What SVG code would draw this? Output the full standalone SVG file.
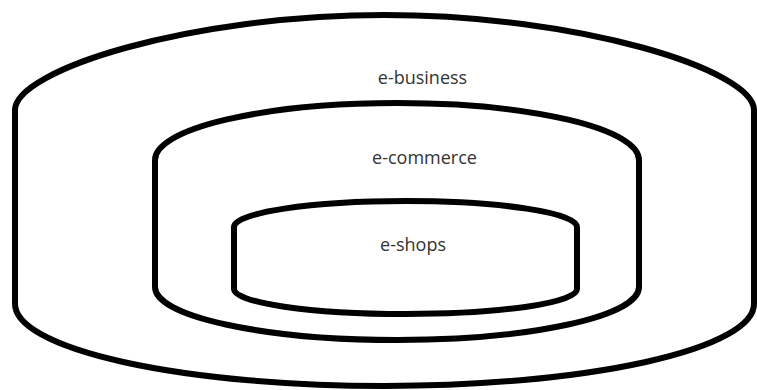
<svg xmlns="http://www.w3.org/2000/svg" width="757" height="390" viewBox="0 0 757 390">
  <style>
    .ring { fill: none; stroke: #000; stroke-width: 6; stroke-linejoin: round; }
    .label { font-family: "Open Sans", "Noto Sans", "DejaVu Sans", sans-serif; font-size: 18px; fill: #333; text-anchor: middle; }
  </style>
  <rect width="757" height="390" fill="#fff"/>
  <!-- outermost ring: e-business (arched top, elliptical bottom) -->
  <g id="e-business">
    <path class="ring" d="M15,304 V110 C15,70 190,15 384.5,15 C579,15 754,70 754,110 V304 A369.5,82 0 0 1 15,304 Z"/>
    <text class="label" x="422.5" y="84">e-business</text>
  </g>
  <!-- middle ring: e-commerce -->
  <g id="e-commerce">
    <path class="ring" d="M155,287 V160 A242,57 0 0 1 639,160 V287 A242,53 0 0 1 155,287 Z"/>
    <text class="label" x="424.5" y="164">e-commerce</text>
  </g>
  <!-- innermost ring: e-shops -->
  <g id="e-shops">
    <path class="ring" d="M234,289 V227 A171.5,26 0 0 1 577,227 V289 A171.5,25 0 0 1 234,289 Z"/>
    <text class="label" x="413" y="251">e-shops</text>
  </g>
</svg>
